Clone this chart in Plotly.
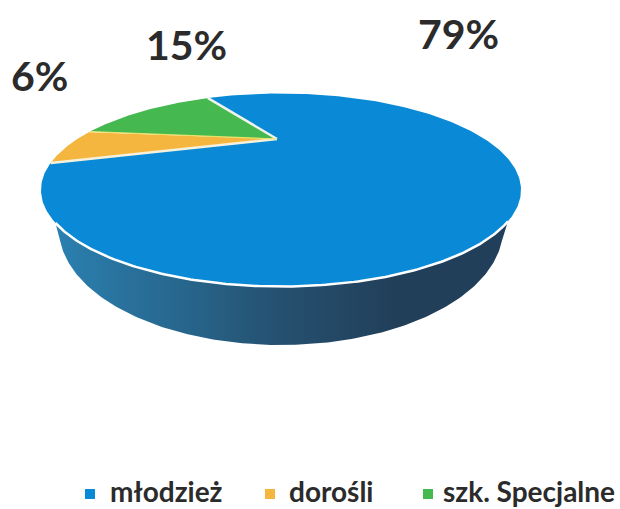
import numpy as np
import plotly.graph_objects as go

categories = ["młodzież", "dorośli", "szk. Specjalne"]
percent_values = [79, 6, 15]
arc_degrees = [304, 21, 35]  # sweep of each slice as read on the tilted rim
colors = ["#0a8ad6", "#f4b63f", "#45b94f"]
label_x = [458, 39, 186]
label_y = [33, 75, 44]
legend_swatch_x = [90, 270, 428]
legend_text_x = [108, 287, 441]
LEGEND_Y = 491
SWATCH_Y = 494

W, H = 620, 509
CX, CY, RX, RY = 281, 190, 240, 96.5
APEX = (277, 139)
LOW_CY, LOW_RX, LOW_RY = 229, 222, 116
GREEN_END = 107.7


def rim(a0, a1, n=160):
    t = np.radians(np.linspace(a0, a1, n))
    return CX + RX * np.cos(t), CY - RY * np.sin(t)


fig = go.Figure()

# side wall
xr, yr = rim(200, 341)
t = np.radians(np.linspace(354, 186, 160))
xl = CX + LOW_RX * np.cos(t)
yl = LOW_CY - LOW_RY * np.sin(t)
fig.add_trace(go.Scatter(
    x=np.r_[xr, xl], y=np.r_[yr, yl], mode="lines", fill="toself",
    line=dict(width=0), showlegend=False, hoverinfo="skip",
    fillgradient=dict(type="horizontal", colorscale=[
        [0, "#2a80b0"], [0.3, "#27648a"], [0.5, "#25506f"], [0.75, "#223f5a"], [1, "#213f5a"]]),
))

# slices: green -> orange -> blue, sweeping anticlockwise from GREEN_END
start = GREEN_END
order = [2, 1, 0]
edges = {}
for i in order:
    end = start + arc_degrees[i]
    x, y = rim(start, end, 320)
    fig.add_trace(go.Scatter(
        x=np.r_[APEX[0], x, APEX[0]], y=np.r_[APEX[1], y, APEX[1]],
        mode="lines", fill="toself", fillcolor=colors[i],
        line=dict(width=0), showlegend=False, hoverinfo="skip",
    ))
    edges[i] = (start, end)
    start = end

# separators and front rim highlight
for ang, col, w in [(edges[2][0], "#eef3ee", 2.5), (edges[1][1], "#f6f1dc", 2.5), (edges[2][1], "#e8e26a", 1.2)]:
    x, y = rim(ang, ang, 1)
    fig.add_trace(go.Scatter(x=[APEX[0], x[0]], y=[APEX[1], y[0]], mode="lines",
                             line=dict(color=col, width=w), showlegend=False, hoverinfo="skip"))
xw, yw = rim(200, 341)
fig.add_trace(go.Scatter(x=xw, y=yw, mode="lines", line=dict(color="white", width=2.5),
                         showlegend=False, hoverinfo="skip"))

# legend row
fig.add_trace(go.Scatter(x=legend_swatch_x, y=[SWATCH_Y] * 3, mode="markers", showlegend=False,
                         hoverinfo="skip", marker=dict(symbol="square", size=10, color=colors)))

annotations = [
    dict(x=x, y=y, text=f"<b>{v}%</b>", showarrow=False, xanchor="center", yanchor="middle",
         font=dict(family="Lato", size=41, color="#2b2b2b"))
    for x, y, v in zip(label_x, label_y, percent_values)
] + [
    dict(x=x, y=LEGEND_Y, text=f"<b>{name}</b>", showarrow=False, xanchor="left", yanchor="middle",
         font=dict(family="Lato", size=28, color="#2b2b2b"))
    for x, name in zip(legend_text_x, categories)
]

fig.update_layout(
    width=W, height=H, margin=dict(l=0, r=0, t=0, b=0),
    paper_bgcolor="white", plot_bgcolor="white", showlegend=False,
    xaxis=dict(range=[0, W], visible=False, fixedrange=True),
    yaxis=dict(range=[H, 0], visible=False, fixedrange=True),
    annotations=annotations,
)
fig.write_html("out.html", config=dict(displayModeBar=False),
               post_script="document.body.style.margin='0';document.documentElement.style.overflow='hidden';")
